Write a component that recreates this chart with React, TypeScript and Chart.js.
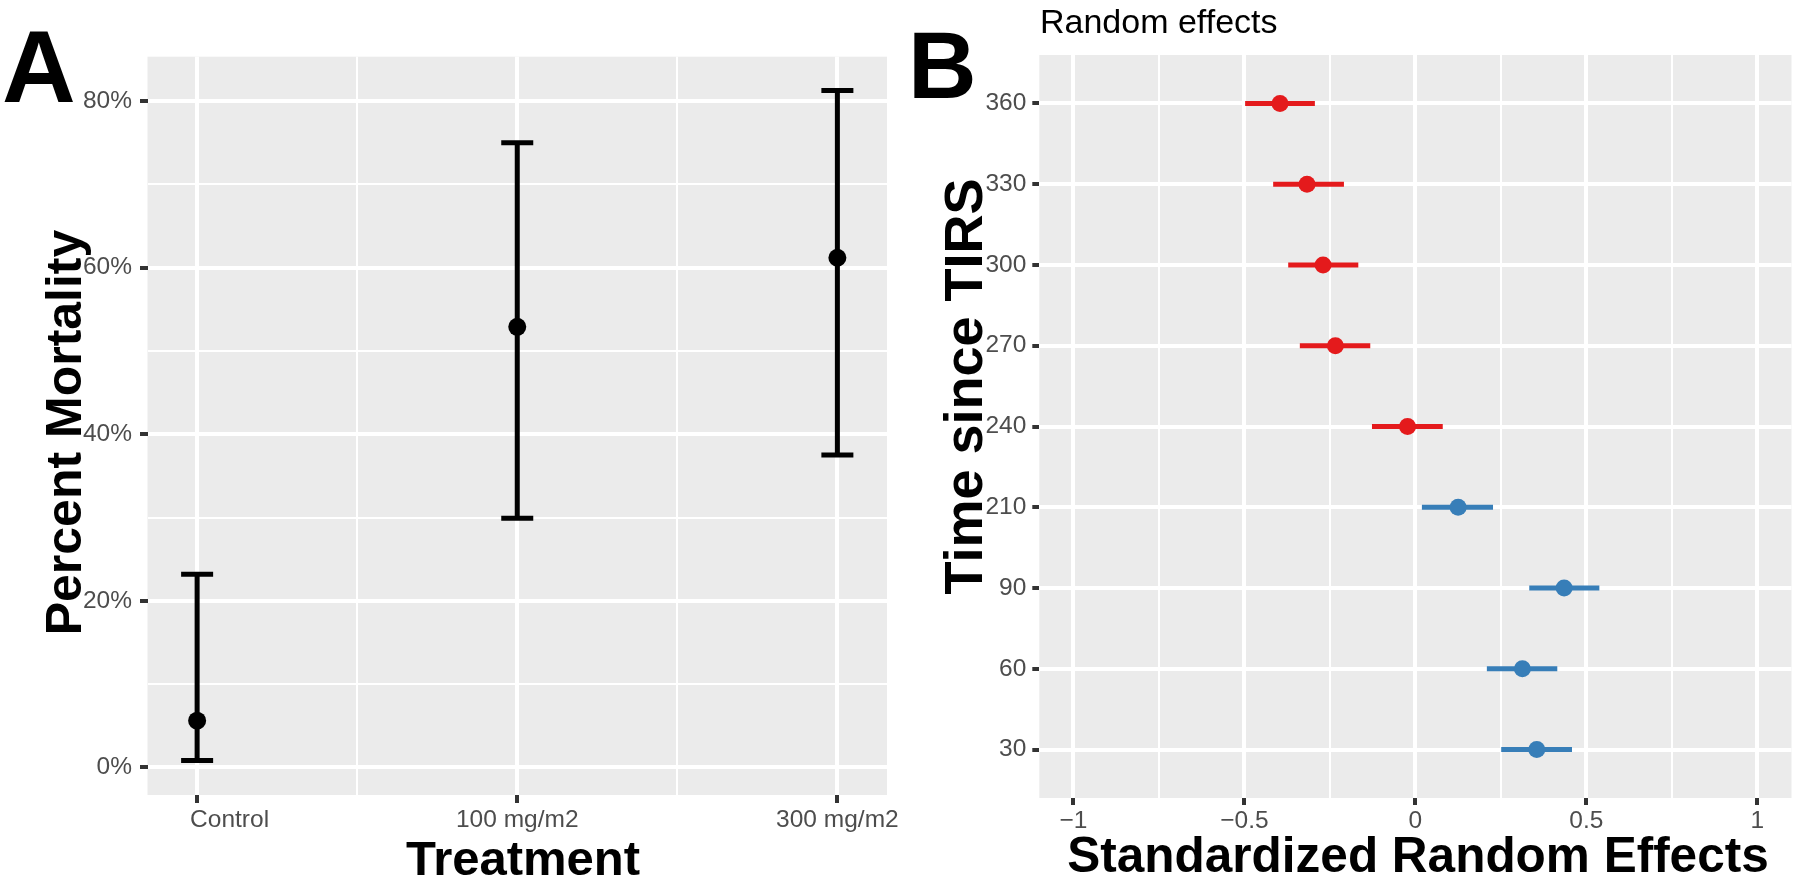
import React, { useEffect, useRef } from 'react';
import { Chart, registerables } from 'chart.js';

Chart.register(...registerables);

// ---------- Panel A data ----------
const treatments = ['Control', '100 mg/m2', '300 mg/m2'];
const mortality = [5.6, 52.9, 61.2];
const mortalityLower = [0.8, 29.9, 37.5];
const mortalityUpper = [23.2, 75.0, 81.3];
const mortalityTicks = [0, 20, 40, 60, 80];
const mortalityMinorTicks = [10, 30, 50, 70];

// ---------- Panel B data (bottom to top) ----------
const timeLabels = ['30', '60', '90', '210', '240', '270', '300', '330', '360'];
const effects = [0.355, 0.313, 0.435, 0.125, -0.023, -0.234, -0.27, -0.317, -0.396];
const effectsLower = [0.251, 0.209, 0.333, 0.019, -0.127, -0.338, -0.372, -0.416, -0.498];
const effectsUpper = [0.458, 0.415, 0.538, 0.227, 0.08, -0.132, -0.167, -0.209, -0.294];
const effectTicks = [-1, -0.5, 0, 0.5, 1];
const effectTickLabels = ['−1', '−0.5', '0', '0.5', '1'];
const effectMinorTicks = [-0.75, -0.25, 0.25, 0.75];

// ---------- Text ----------
const panelALetter = 'A';
const panelBLetter = 'B';
const titleA_x = 'Treatment';
const titleA_y = 'Percent Mortality';
const titleB = 'Random effects';
const titleB_x = 'Standardized Random Effects';
const titleB_y = 'Time since TIRS';

// ---------- Style ----------
const FONT = '"Liberation Sans", Arial, Helvetica, sans-serif';
const PANEL_BG = '#ebebeb';
const TICK_COLOR = '#333333';
const TEXT_GRAY = '#4d4d4d';
const RED = '#e41a1c';
const BLUE = '#377eb8';
const GRID_MAJOR = 4;
const GRID_MINOR = 2;
const TICK_FONT = 24.5;

const panelBg = {
  id: 'panelBg',
  beforeDraw(chart: any) {
    const { ctx, chartArea: a } = chart;
    ctx.save();
    ctx.fillStyle = PANEL_BG;
    ctx.fillRect(a.left, a.top, a.right - a.left, a.bottom - a.top);
    ctx.restore();
  },
};

function rotatedText(ctx: CanvasRenderingContext2D, text: string, x: number, y: number, font: string) {
  ctx.save();
  ctx.translate(x, y);
  ctx.rotate(-Math.PI / 2);
  ctx.font = font;
  ctx.textAlign = 'center';
  ctx.textBaseline = 'alphabetic';
  ctx.fillStyle = '#000';
  ctx.fillText(text, 0, 0);
  ctx.restore();
}

const textA = {
  id: 'textA',
  afterDraw(chart: any) {
    const ctx: CanvasRenderingContext2D = chart.ctx;
    ctx.save();
    ctx.fillStyle = '#000';
    ctx.textBaseline = 'alphabetic';
    ctx.textAlign = 'left';
    ctx.font = `bold 102px ${FONT}`;
    ctx.fillText(panelALetter, 2, 102);
    ctx.textAlign = 'center';
    ctx.font = `bold 49px ${FONT}`;
    ctx.fillText(titleA_x, 523, 875);
    // category tick labels
    const xs = chart.scales.x;
    ctx.font = `${TICK_FONT}px ${FONT}`;
    ctx.fillStyle = TEXT_GRAY;
    treatments.forEach((t, i) => {
      const px = xs.getPixelForValue(i + 1);
      if (i === 0) {
        ctx.textAlign = 'left';
        ctx.fillText(t, px - 7, 827);
      } else {
        ctx.textAlign = 'center';
        ctx.fillText(t, px, 827);
      }
    });
    ctx.restore();
    rotatedText(ctx, titleA_y, 81, 432.5, `bold 50px ${FONT}`);
  },
};

const textB = {
  id: 'textB',
  afterDraw(chart: any) {
    const ctx: CanvasRenderingContext2D = chart.ctx;
    ctx.save();
    ctx.fillStyle = '#000';
    ctx.textBaseline = 'alphabetic';
    ctx.textAlign = 'left';
    ctx.font = `bold 95px ${FONT}`;
    ctx.fillText(panelBLetter, 8, 98);
    ctx.font = `34px ${FONT}`;
    ctx.fillText(titleB, 140, 33);
    ctx.textAlign = 'center';
    ctx.font = `bold 49.5px ${FONT}`;
    ctx.fillText(titleB_x, 518, 872);
    ctx.restore();
    rotatedText(ctx, titleB_y, 82, 386.5, `bold 54px ${FONT}`);
  },
};

const isIn = (arr: number[], v: number) => arr.some((a) => Math.abs(a - v) < 1e-9);

function configA(): any {
  const majorsX = treatments.map((_, i) => i + 1);
  const minorsX = majorsX.slice(0, -1).map((v) => v + 0.5);
  const capHalf = 0.05;
  const segs: any[] = [];
  treatments.forEach((_, i) => {
    const x = i + 1;
    const lines = [
      [{ x, y: mortalityLower[i] }, { x, y: mortalityUpper[i] }],
      [{ x: x - capHalf, y: mortalityUpper[i] }, { x: x + capHalf, y: mortalityUpper[i] }],
      [{ x: x - capHalf, y: mortalityLower[i] }, { x: x + capHalf, y: mortalityLower[i] }],
    ];
    lines.forEach((d) =>
      segs.push({
        data: d,
        showLine: true,
        borderColor: '#000',
        borderWidth: 5,
        borderCapStyle: 'butt',
        pointRadius: 0,
        pointHoverRadius: 0,
        fill: false,
      })
    );
  });
  return {
    type: 'scatter',
    data: {
      datasets: [
        {
          data: mortality.map((m, i) => ({ x: i + 1, y: m })),
          pointRadius: 9,
          pointHoverRadius: 9,
          pointBackgroundColor: '#000',
          pointBorderColor: '#000',
          pointBorderWidth: 0,
          showLine: false,
        },
        ...segs,
      ],
    },
    options: {
      animation: false,
      responsive: false,
      devicePixelRatio: 1,
      events: [],
      layout: { padding: { top: 56.7, right: 13, bottom: 0, left: 0 } },
      plugins: { legend: { display: false }, tooltip: { enabled: false } },
      scales: {
        x: {
          type: 'linear',
          min: 0.845,
          max: 3.155,
          bounds: 'data',
          afterBuildTicks: (s: any) => {
            s.ticks = [...majorsX, ...minorsX].sort((a, b) => a - b).map((v) => ({ value: v }));
          },
          afterFit: (s: any) => {
            s.height = 85;
            s.paddingLeft = 0;
            s.paddingRight = 0;
          },
          border: { display: false },
          grid: {
            color: '#ffffff',
            lineWidth: (c: any) => (isIn(majorsX, c.tick.value) ? GRID_MAJOR : GRID_MINOR),
            drawTicks: true,
            tickLength: 8,
            tickWidth: 4,
            tickColor: (c: any) => (isIn(majorsX, c.tick.value) ? TICK_COLOR : 'rgba(0,0,0,0)'),
          },
          ticks: { display: false, autoSkip: false },
        },
        y: {
          type: 'linear',
          min: -3.33,
          max: 85.35,
          bounds: 'data',
          afterBuildTicks: (s: any) => {
            s.ticks = [...mortalityTicks, ...mortalityMinorTicks].sort((a, b) => a - b).map((v) => ({ value: v }));
          },
          afterFit: (s: any) => {
            s.width = 147.5;
            s.paddingTop = 0;
            s.paddingBottom = 0;
          },
          border: { display: false },
          grid: {
            color: '#ffffff',
            lineWidth: (c: any) => (isIn(mortalityTicks, c.tick.value) ? GRID_MAJOR : GRID_MINOR),
            drawTicks: true,
            tickLength: 7.5,
            tickWidth: 4,
            tickColor: (c: any) => (isIn(mortalityTicks, c.tick.value) ? TICK_COLOR : 'rgba(0,0,0,0)'),
          },
          ticks: {
            autoSkip: false,
            padding: 8,
            color: TEXT_GRAY,
            font: { family: FONT, size: TICK_FONT },
            callback: (v: number) => (isIn(mortalityTicks, v) ? `${v}%` : ''),
          },
        },
      },
    },
    plugins: [panelBg, textA],
  };
}

function configB(): any {
  const colorOf = (e: number) => (e < 0 ? RED : BLUE);
  const rows = timeLabels.map((_, i) => i + 1);
  const segs = effects.map((e, i) => ({
    data: [
      { x: effectsLower[i], y: i + 1 },
      { x: effectsUpper[i], y: i + 1 },
    ],
    showLine: true,
    borderColor: colorOf(e),
    borderWidth: 5,
    borderCapStyle: 'butt',
    pointRadius: 0,
    pointHoverRadius: 0,
    fill: false,
  }));
  return {
    type: 'scatter',
    data: {
      datasets: [
        {
          data: effects.map((e, i) => ({ x: e, y: i + 1 })),
          pointRadius: 8.5,
          pointHoverRadius: 8.5,
          pointBackgroundColor: effects.map(colorOf),
          pointBorderColor: effects.map(colorOf),
          pointBorderWidth: 0,
          showLine: false,
        },
        ...segs,
      ],
    },
    options: {
      animation: false,
      responsive: false,
      devicePixelRatio: 1,
      events: [],
      layout: { padding: { top: 55, right: 7, bottom: 0, left: 0 } },
      plugins: { legend: { display: false }, tooltip: { enabled: false } },
      scales: {
        x: {
          type: 'linear',
          min: -1.1,
          max: 1.1,
          bounds: 'data',
          afterBuildTicks: (s: any) => {
            s.ticks = [...effectTicks, ...effectMinorTicks].sort((a, b) => a - b).map((v) => ({ value: v }));
          },
          afterFit: (s: any) => {
            s.height = 82;
            s.paddingLeft = 0;
            s.paddingRight = 0;
          },
          border: { display: false },
          grid: {
            color: '#ffffff',
            lineWidth: (c: any) => (isIn(effectTicks, c.tick.value) ? GRID_MAJOR : GRID_MINOR),
            drawTicks: true,
            tickLength: 7,
            tickWidth: 4,
            tickColor: (c: any) => (isIn(effectTicks, c.tick.value) ? TICK_COLOR : 'rgba(0,0,0,0)'),
          },
          ticks: {
            autoSkip: false,
            maxRotation: 0,
            minRotation: 0,
            padding: 2,
            color: TEXT_GRAY,
            font: { family: FONT, size: TICK_FONT },
            callback: (v: number) => {
              const k = effectTicks.findIndex((t) => Math.abs(t - v) < 1e-9);
              return k >= 0 ? effectTickLabels[k] : '';
            },
          },
        },
        y: {
          type: 'linear',
          min: 0.4,
          max: 9.6,
          bounds: 'data',
          afterBuildTicks: (s: any) => {
            s.ticks = rows.map((v) => ({ value: v }));
          },
          afterFit: (s: any) => {
            s.width = 139.3;
            s.paddingTop = 0;
            s.paddingBottom = 0;
          },
          border: { display: false },
          grid: {
            color: '#ffffff',
            lineWidth: GRID_MAJOR,
            drawTicks: true,
            tickLength: 7,
            tickWidth: 4,
            tickColor: TICK_COLOR,
          },
          ticks: {
            autoSkip: false,
            padding: 6,
            color: TEXT_GRAY,
            font: { family: FONT, size: TICK_FONT },
            callback: (v: number) => timeLabels[Math.round(v) - 1] ?? '',
          },
        },
      },
    },
    plugins: [panelBg, textB],
  };
}

export default function App() {
  const refA = useRef<HTMLCanvasElement>(null);
  const refB = useRef<HTMLCanvasElement>(null);
  useEffect(() => {
    const a = new Chart(refA.current as HTMLCanvasElement, configA());
    const b = new Chart(refB.current as HTMLCanvasElement, configB());
    return () => {
      a.destroy();
      b.destroy();
    };
  }, []);
  return (
    <div
      style={{
        position: 'absolute',
        left: 0,
        top: 0,
        width: 1800,
        height: 880,
        background: '#ffffff',
        overflow: 'hidden',
      }}
    >
      <canvas
        ref={refA}
        width={900}
        height={880}
        style={{ position: 'absolute', left: 0, top: 0, width: 900, height: 880 }}
      />
      <canvas
        ref={refB}
        width={900}
        height={880}
        style={{ position: 'absolute', left: 900, top: 0, width: 900, height: 880 }}
      />
    </div>
  );
}
